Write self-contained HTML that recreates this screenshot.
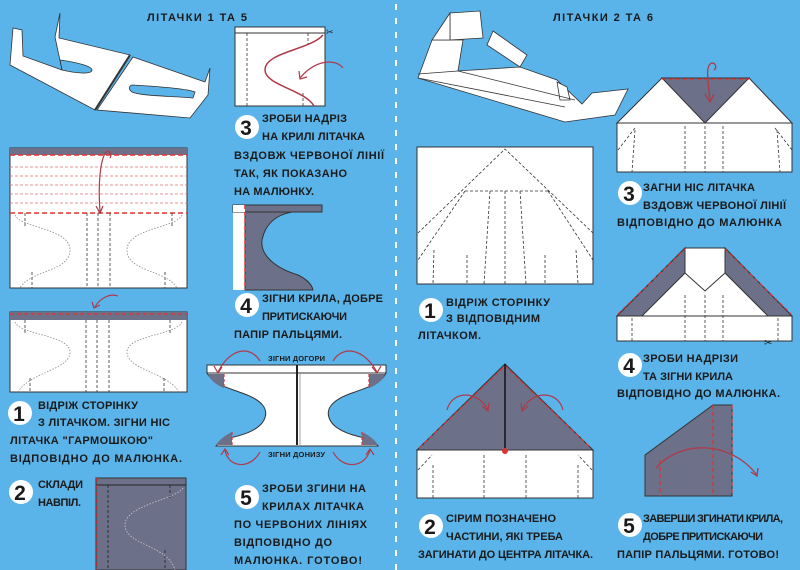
<!DOCTYPE html>
<html><head><meta charset="utf-8"><style>
html,body{margin:0;padding:0;background:#5ab4ea;}
svg{display:block}
text{font-family:"Liberation Sans","DejaVu Sans",sans-serif;font-weight:bold;fill:#1a1a1a;}
.t{font-size:11px}
.n{font-size:21px;text-anchor:middle}
</style></head><body>
<svg width="800" height="570" viewBox="0 0 800 570" xmlns="http://www.w3.org/2000/svg">
<rect width="800" height="570" fill="#5ab4ea"/>
<line x1="396" y1="4" x2="396" y2="570" stroke="#fff" stroke-width="2" stroke-dasharray="6,8"/>

<text class="t" x="147" y="21" textLength="100">ЛІТАЧКИ 1 ТА 5</text>
<text class="t" x="553" y="21" textLength="100">ЛІТАЧКИ 2 ТА 6</text>

<!-- plane 1 -->
<g stroke="#333" stroke-width="0.8" fill="#fff">
<polygon points="10,65 13,28 22,30 23,56 62,70 55,37 60,13 59,38 130,55 95,110"/>
<polygon points="133,57 205,82 210,68 208,95 190,118 97,110"/>
<path d="M60,60 C75,62 92,66 92,70 C92,75 75,73 62,70 Z" fill="#5ab4ea"/>
<path d="M132,85 C150,86 185,88 195,92 L193,98 C170,96 140,96 132,92 C128,89 129,86 132,85 Z" fill="#5ab4ea"/>
</g>
<line x1="130" y1="55" x2="95" y2="110" stroke="#333" stroke-width="2"/>

<!-- step 1 fig a -->
<rect x="10" y="148" width="177" height="140" fill="#fff" stroke="#333"/>
<rect x="10" y="148" width="177" height="7" fill="#6c7088"/>
<line x1="10" y1="155" x2="187" y2="155" stroke="#d33" stroke-width="1.5" stroke-dasharray="5,3"/>
<g stroke="#e07070" stroke-width="0.8" stroke-dasharray="3,2">
<line x1="10" y1="167" x2="187" y2="167"/><line x1="10" y1="176" x2="187" y2="176"/>
<line x1="10" y1="185" x2="187" y2="185"/><line x1="10" y1="194" x2="187" y2="194"/>
<line x1="10" y1="203" x2="187" y2="203"/></g>
<line x1="10" y1="213" x2="187" y2="213" stroke="#d33" stroke-width="1.5" stroke-dasharray="5,3"/>
<g stroke="#333" stroke-width="0.8" stroke-dasharray="3,2">
<line x1="25" y1="213" x2="25" y2="228"/><line x1="172" y1="213" x2="172" y2="228"/>
<line x1="87" y1="213" x2="87" y2="288"/><line x1="98" y1="213" x2="98" y2="288"/><line x1="110" y1="213" x2="110" y2="288"/>
<line x1="32" y1="272" x2="32" y2="288"/><line x1="165" y1="272" x2="165" y2="288"/></g>
<g stroke="#888" stroke-width="0.8" stroke-dasharray="1.5,1.5" fill="none">
<path d="M15,215 C20,228 70,228 70,250 C70,272 30,270 20,288"/>
<path d="M182,215 C177,228 127,228 127,250 C127,272 167,270 177,288"/></g>
<path d="M100,212 C98,185 100,160 106,152 C110,150 112,155 110,158" stroke="#b03a48" stroke-width="1.2" fill="none"/>
<path d="M96,206 L100,213 L103,206" stroke="#b03a48" stroke-width="1.2" fill="none"/>

<!-- step 1 fig b -->
<rect x="10" y="312" width="177" height="80" fill="#fff" stroke="#333"/>
<rect x="10" y="312" width="177" height="8" fill="#6c7088"/>
<line x1="10" y1="314" x2="187" y2="314" stroke="#d33" stroke-width="1.2" stroke-dasharray="4,3"/>
<g stroke="#333" stroke-width="0.8" stroke-dasharray="3,2">
<line x1="25" y1="320" x2="25" y2="335"/><line x1="170" y1="320" x2="170" y2="335"/>
<line x1="86" y1="320" x2="86" y2="392"/><line x1="97" y1="320" x2="97" y2="392"/><line x1="109" y1="320" x2="109" y2="392"/>
<line x1="30" y1="378" x2="30" y2="392"/><line x1="164" y1="378" x2="164" y2="392"/></g>
<g stroke="#888" stroke-width="0.8" stroke-dasharray="1.5,1.5" fill="none">
<path d="M15,322 C20,335 70,335 70,352 C70,370 30,372 18,392"/>
<path d="M182,322 C177,335 127,335 127,352 C127,370 167,372 179,392"/></g>
<path d="M118,296 C110,293 100,298 95,307" stroke="#b03a48" stroke-width="1.2" fill="none"/>
<path d="M92,302 L94,308 L100,305" stroke="#b03a48" stroke-width="1.2" fill="none"/>

<circle cx="20" cy="413" r="12" fill="#fff"/><text class="n" x="19" y="421">1</text>
<text class="t" x="38" y="409" textLength="100">ВІДРІЖ СТОРІНКУ</text>
<text class="t" x="38" y="426" textLength="132">З ЛІТАЧКОМ. ЗІГНИ НІС</text>
<text class="t" x="10" y="444" textLength="143">ЛІТАЧКА "ГАРМОШКОЮ"</text>
<text class="t" x="10" y="462" textLength="172">ВІДПОВІДНО ДО МАЛЮНКА.</text>
<circle cx="21" cy="492" r="12" fill="#fff"/><text class="n" x="20" y="500">2</text>
<text class="t" x="38" y="488" textLength="45">СКЛАДИ</text>
<text class="t" x="38" y="506" textLength="43">НАВПІЛ.</text>

<rect x="96" y="478" width="90" height="92" fill="#6c7088" stroke="#333"/>
<line x1="96" y1="485" x2="186" y2="485" stroke="#222"/>
<line x1="97" y1="478" x2="97" y2="570" stroke="#d33" stroke-width="1.5" stroke-dasharray="4,3"/>
<g stroke="#222" stroke-width="0.8" stroke-dasharray="3,2">
<line x1="108" y1="485" x2="108" y2="570"/><line x1="170" y1="485" x2="170" y2="500"/><line x1="165" y1="550" x2="165" y2="570"/></g>
<path d="M183,488 C175,500 125,505 125,525 C125,545 168,545 175,570" stroke="#ccc" stroke-width="0.8" stroke-dasharray="1.5,1.5" fill="none"/>

<!-- step 3 fig -->
<rect x="235" y="27" width="90" height="79" fill="#fff" stroke="#333"/>
<line x1="235" y1="33" x2="325" y2="33" stroke="#333"/>
<g stroke="#333" stroke-width="0.8" stroke-dasharray="3,2">
<line x1="247" y1="33" x2="247" y2="106"/><line x1="308" y1="33" x2="308" y2="45"/><line x1="303" y1="93" x2="303" y2="106"/></g>
<path d="M323,35 C310,50 265,52 265,70 C265,85 305,90 314,106" stroke="#b03a48" stroke-width="1.5" fill="none"/>
<path d="M343,68 C335,58 315,60 300,78" stroke="#b03a48" stroke-width="1.2" fill="none"/>
<path d="M299,71 L300,79 L307,77" stroke="#b03a48" stroke-width="1.2" fill="none"/>
<text x="326" y="35" font-size="9">✂</text>

<circle cx="247" cy="127" r="12" fill="#fff"/><text class="n" x="246" y="135">3</text>
<text class="t" x="262" y="122" textLength="85">ЗРОБИ НАДРІЗ</text>
<text class="t" x="262" y="140" textLength="103">НА КРИЛІ ЛІТАЧКА</text>
<text class="t" x="234" y="159" textLength="150">ВЗДОВЖ ЧЕРВОНОЇ ЛІНІЇ</text>
<text class="t" x="234" y="177" textLength="113">ТАК, ЯК ПОКАЗАНО</text>
<text class="t" x="234" y="195" textLength="80">НА МАЛЮНКУ.</text>

<rect x="233" y="205" width="12" height="85" fill="#fff"/>
<path d="M245,205 L322,205 L322,212 L292,212 C275,215 265,225 262,240 C260,255 275,268 298,275 C308,280 312,285 313,290 L245,290 Z" fill="#6c7088" stroke="#333"/>
<rect x="233" y="205" width="89" height="7" fill="#6c7088" stroke="#333"/>
<rect x="233" y="205" width="12" height="7" fill="#fff"/>
<line x1="245" y1="205" x2="245" y2="290" stroke="#d33" stroke-width="1.5" stroke-dasharray="4,3"/>

<circle cx="247" cy="305" r="12" fill="#fff"/><text class="n" x="246" y="313">4</text>
<text class="t" x="262" y="302" textLength="121">ЗІГНИ КРИЛА, ДОБРЕ</text>
<text class="t" x="262" y="320" textLength="85">ПРИТИСКАЮЧИ</text>
<text class="t" x="234" y="338" textLength="108">ПАПІР ПАЛЬЦЯМИ.</text>

<path d="M207,373 L386,373 C380,385 365,388 355,392 C330,400 325,410 330,420 C335,430 350,435 365,438 C372,440 376,443 378,446 L216,446 C218,443 222,440 229,438 C244,435 259,430 264,420 C269,410 264,400 239,392 C229,388 214,385 207,373 Z" fill="#fff" stroke="#333"/>
<rect x="207" y="365" width="179" height="8" fill="#fff" stroke="#333"/>
<path d="M208,374 L224,374 L224,388 C216,385 210,380 208,374 Z" fill="#6c7088"/>
<path d="M385,374 L369,374 L369,388 C377,385 383,380 385,374 Z" fill="#6c7088"/>
<path d="M216,445 L232,445 L232,432 C224,436 219,440 216,445 Z" fill="#6c7088"/>
<path d="M378,445 L362,445 L362,432 C370,436 375,440 378,445 Z" fill="#6c7088"/>
<g stroke="#d33" stroke-width="1.2" stroke-dasharray="3,2"><line x1="224" y1="374" x2="224" y2="388"/><line x1="369" y1="374" x2="369" y2="388"/><line x1="232" y1="432" x2="232" y2="445"/><line x1="362" y1="432" x2="362" y2="445"/></g>
<line x1="297" y1="365" x2="297" y2="445" stroke="#222" stroke-width="2"/>
<line x1="300" y1="373" x2="300" y2="445" stroke="#666" stroke-width="0.6"/>
<text x="268" y="361" font-size="7.5" textLength="57">ЗІГНИ ДОГОРИ</text>
<text x="268" y="457" font-size="7.5" textLength="57">ЗІГНИ ДОНИЗУ</text>
<g stroke="#b03a48" stroke-width="1.2" fill="none">
<path d="M260,361 C250,345 230,348 218,372"/><path d="M214,366 L218,373 L222,367"/>
<path d="M333,361 C343,345 363,348 377,372"/><path d="M372,367 L377,373 L381,366"/>
<path d="M260,452 C250,470 228,468 225,450"/><path d="M221,455 L225,449 L229,455"/>
<path d="M333,452 C343,470 365,468 370,450"/><path d="M366,455 L370,449 L374,455"/></g>

<circle cx="247" cy="497" r="12" fill="#fff"/><text class="n" x="246" y="505">5</text>
<text class="t" x="262" y="492" textLength="104">ЗРОБИ ЗГИНИ НА</text>
<text class="t" x="262" y="510" textLength="102">КРИЛАХ ЛІТАЧКА</text>
<text class="t" x="234" y="528" textLength="133">ПО ЧЕРВОНИХ ЛІНІЯХ</text>
<text class="t" x="234" y="546" textLength="98">ВІДПОВІДНО ДО</text>
<text class="t" x="234" y="564" textLength="128">МАЛЮНКА. ГОТОВО!</text>

<!-- plane 2 -->
<g stroke="#333" stroke-width="0.8" fill="#fff">
<polygon points="418,78 432,40 463,40 458,71 520,67 557,80 582,104 592,93 628,89 615,115 565,122"/>
<polygon points="450,13 480,11 483,38 450,40"/>
<polygon points="432,40 450,13 450,40"/>
<polygon points="493,31 527,55 520,67 487,45"/>
<polygon points="557,82 567,87 570,100 560,100"/>
<line x1="418" y1="78" x2="565" y2="107"/><line x1="418" y1="74" x2="458" y2="71"/>
<line x1="458" y1="71" x2="575" y2="100"/></g>

<rect x="417" y="147" width="176" height="137" fill="#fff" stroke="#333"/>
<g stroke="#333" stroke-width="0.8" stroke-dasharray="3,2" fill="none">
<polyline points="418,233 505,149 593,233"/>
<line x1="465" y1="191" x2="548" y2="191"/>
<line x1="465" y1="191" x2="418" y2="260"/><line x1="548" y1="191" x2="593" y2="260"/>
<line x1="490" y1="191" x2="484" y2="284"/><line x1="505" y1="191" x2="505" y2="284"/><line x1="520" y1="191" x2="526" y2="284"/>
<line x1="434" y1="250" x2="433" y2="284"/><line x1="576" y1="250" x2="578" y2="284"/>
<line x1="467" y1="255" x2="467" y2="284"/><line x1="545" y1="255" x2="545" y2="284"/></g>

<circle cx="431" cy="310" r="12" fill="#fff"/><text class="n" x="430" y="318">1</text>
<text class="t" x="446" y="306" textLength="104">ВІДРІЖ СТОРІНКУ</text>
<text class="t" x="446" y="322" textLength="94">З ВІДПОВІДНИМ</text>
<text class="t" x="418" y="339" textLength="63">ЛІТАЧКОМ.</text>

<rect x="417" y="450" width="176" height="48" fill="#fff" stroke="#333"/>
<polygon points="417,450 505,364 593,450" fill="#6c7088" stroke="#333"/>
<g stroke="#d33" stroke-width="1.2" stroke-dasharray="4,3"><line x1="419" y1="448" x2="505" y2="366"/><line x1="505" y1="366" x2="591" y2="448"/></g>
<line x1="505" y1="364" x2="505" y2="450" stroke="#111" stroke-width="1.5"/>
<circle cx="505" cy="451" r="3" fill="#d33"/>
<g stroke="#333" stroke-width="0.8" stroke-dasharray="3,2">
<line x1="433" y1="465" x2="433" y2="498"/><line x1="484" y1="455" x2="484" y2="498"/><line x1="526" y1="455" x2="526" y2="498"/>
<line x1="578" y1="465" x2="578" y2="498"/><line x1="418" y1="470" x2="432" y2="455"/><line x1="592" y1="470" x2="578" y2="455"/></g>
<g stroke="#b03a48" stroke-width="1.2" fill="none">
<path d="M447,410 C452,390 478,390 488,410"/><path d="M482,406 L488,411 L489,403"/>
<path d="M563,410 C558,390 532,390 522,410"/><path d="M528,406 L522,411 L521,403"/></g>

<circle cx="431" cy="526" r="12" fill="#fff"/><text class="n" x="430" y="534">2</text>
<text class="t" x="446" y="522" textLength="110">СІРИМ ПОЗНАЧЕНО</text>
<text class="t" x="446" y="540" textLength="117">ЧАСТИНИ, ЯКІ ТРЕБА</text>
<text class="t" x="418" y="558" textLength="175">ЗАГИНАТИ ДО ЦЕНТРА ЛІТАЧКА.</text>

<polygon points="617,123 662,78 749,78 792,123" fill="#fff" stroke="#333"/>
<polygon points="662,78 749,78 705,123" fill="#6c7088" stroke="#333"/>
<line x1="662" y1="79" x2="749" y2="79" stroke="#d33" stroke-width="1.2" stroke-dasharray="4,3"/>
<rect x="617" y="123" width="175" height="49" fill="#fff" stroke="#333"/>
<g stroke="#333" stroke-width="0.8" stroke-dasharray="3,2">
<line x1="685" y1="126" x2="685" y2="172"/><line x1="705" y1="126" x2="705" y2="172"/><line x1="723" y1="126" x2="723" y2="172"/>
<line x1="635" y1="130" x2="632" y2="172"/><line x1="777" y1="130" x2="780" y2="172"/>
<line x1="618" y1="150" x2="635" y2="128"/><line x1="792" y1="150" x2="775" y2="128"/></g>
<g stroke="#b03a48" stroke-width="1.3" fill="none"><path d="M710,100 C708,80 705,65 712,63 C716,63 717,68 714,70"/><path d="M705,94 L710,102 L714,94"/></g>

<circle cx="630" cy="193" r="12" fill="#fff"/><text class="n" x="629" y="201">3</text>
<text class="t" x="643" y="191" textLength="112">ЗАГНИ НІС ЛІТАЧКА</text>
<text class="t" x="643" y="209" textLength="143">ВЗДОВЖ ЧЕРВОНОЇ ЛІНІЇ</text>
<text class="t" x="617" y="226" textLength="165">ВІДПОВІДНО ДО МАЛЮНКА</text>

<polygon points="617,316 685,248 725,248 792,316" fill="#fff" stroke="#333"/>
<polygon points="617,316 685,248 685,273 642,316" fill="#6c7088" stroke="#333"/>
<polygon points="792,316 725,248 725,273 768,316" fill="#6c7088" stroke="#333"/>
<polyline points="685,273 705,291 725,273" fill="none" stroke="#333"/>
<g stroke="#d33" stroke-width="1.2" stroke-dasharray="4,3"><line x1="618" y1="314" x2="685" y2="249"/><line x1="725" y1="249" x2="791" y2="314"/></g>
<rect x="617" y="316" width="175" height="25" fill="#fff" stroke="#333"/>
<g stroke="#333" stroke-width="0.8" stroke-dasharray="3,2">
<line x1="685" y1="295" x2="685" y2="341"/><line x1="705" y1="295" x2="705" y2="341"/><line x1="723" y1="295" x2="723" y2="341"/>
<line x1="632" y1="318" x2="632" y2="341"/><line x1="778" y1="318" x2="778" y2="341"/></g>
<text x="764" y="346" font-size="10">✂</text>

<circle cx="630" cy="365" r="12" fill="#fff"/><text class="n" x="629" y="373">4</text>
<text class="t" x="643" y="362" textLength="95">ЗРОБИ НАДРІЗИ</text>
<text class="t" x="643" y="380" textLength="90">ТА ЗІГНИ КРИЛА</text>
<text class="t" x="617" y="397" textLength="163">ВІДПОВІДНО ДО МАЛЮНКА.</text>

<polygon points="645,473 645,455 713,405 732,405 732,496 645,496" fill="#6c7088" stroke="#333"/>
<g stroke="#d33" stroke-width="1.3" stroke-dasharray="4,3">
<line x1="660" y1="460" x2="660" y2="496"/><line x1="713" y1="405" x2="713" y2="496"/><line x1="732" y1="405" x2="732" y2="496"/></g>
<g stroke="#b03a48" stroke-width="1.3" fill="none"><path d="M656,468 C680,440 730,440 757,475"/><path d="M751,472 L757,476 L758,468"/></g>

<circle cx="630" cy="525" r="12" fill="#fff"/><text class="n" x="629" y="533">5</text>
<text class="t" x="643" y="522" textLength="140">ЗАВЕРШИ ЗГИНАТИ КРИЛА,</text>
<text class="t" x="643" y="540" textLength="120">ДОБРЕ ПРИТИСКАЮЧИ</text>
<text class="t" x="617" y="558" textLength="162">ПАПІР ПАЛЬЦЯМИ. ГОТОВО!</text>
</svg>
</body></html>
